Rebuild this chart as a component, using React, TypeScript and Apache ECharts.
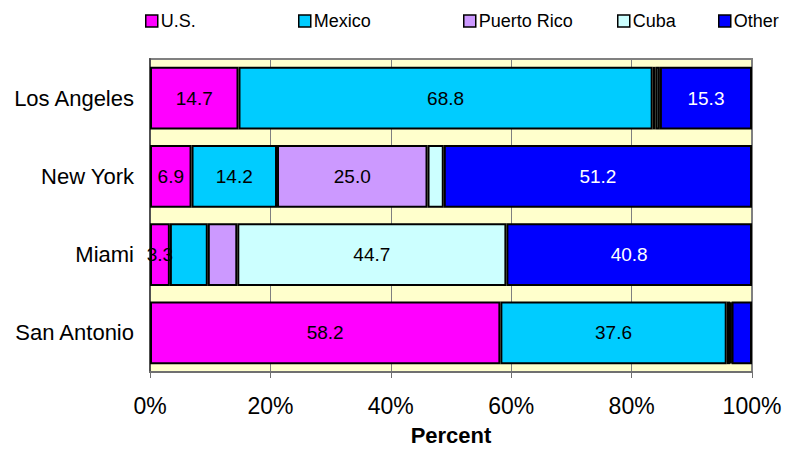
import React, { useEffect, useRef } from "react";
import * as echarts from "echarts";

// Origin shares by city (percent of each city's total)
const cities = ["Los Angeles", "New York", "Miami", "San Antonio"];
const seriesNames = ["U.S.", "Mexico", "Puerto Rico", "Cuba", "Other"];
const usValues = [14.7, 6.9, 3.3, 58.2];
const mexicoValues = [68.8, 14.2, 6.3, 37.6];
const puertoRicoValues = [0.5, 25.0, 4.9, 0.6];
const cubaValues = [0.7, 2.7, 44.7, 0.2];
const otherValues = [15.3, 51.2, 40.8, 3.4];
// Which segments carry a value label
const usLabeled = [true, true, true, true];
const mexicoLabeled = [true, true, false, true];
const puertoRicoLabeled = [false, true, false, false];
const cubaLabeled = [false, false, true, false];
const otherLabeled = [true, true, true, false];
const xTicks = [0, 20, 40, 60, 80, 100];

const colors = ["#FF00FF", "#00CCFF", "#CC99FF", "#CCFFFF", "#0000FF"];
const labelColors = ["#000", "#000", "#000", "#000", "#fff"];
const FONT = '"Liberation Sans", Arial, sans-serif';

export default function App() {
  const ref = useRef<HTMLDivElement>(null);

  useEffect(() => {
    if (!ref.current) return;
    const chart = echarts.init(ref.current, undefined, { renderer: "svg" });
    const values = [usValues, mexicoValues, puertoRicoValues, cubaValues, otherValues];
    const labeled = [usLabeled, mexicoLabeled, puertoRicoLabeled, cubaLabeled, otherLabeled];
    const legendLefts = [145, 298, 463, 617, 718];

    const series = seriesNames.map((name, si) => ({
      name,
      type: "bar",
      stack: "total",
      barCategoryGap: "20%",
      itemStyle: { color: colors[si], borderColor: "#000", borderWidth: 2 },
      label: {
        show: false,
        position: "inside",
        color: labelColors[si],
        fontSize: 19,
        fontFamily: FONT,
        formatter: (p: any) => Number(p.value).toFixed(1),
      },
      data: values[si].map((v, ci) => ({
        value: v,
        label: { show: labeled[si][ci] },
      })),
    }));

    chart.setOption({
      animation: false,
      backgroundColor: "#fff",
      textStyle: { fontFamily: FONT },
      legend: seriesNames.map((name, i) => ({
        data: [name],
        left: legendLefts[i],
        top: 12,
        padding: 0,
        icon: "rect",
        itemWidth: 12,
        itemHeight: 12,
        itemGap: 4,
        itemStyle: { borderColor: "#000", borderWidth: 1.5 },
        textStyle: { fontSize: 18, color: "#000", fontFamily: FONT, padding: [0, 0, 0, -2] },
        selectedMode: false,
      })),
      grid: {
        left: 150,
        right: 34,
        top: 59,
        bottom: 75,
        show: true,
        backgroundColor: "#FFFFCC",
        borderColor: "#808080",
        borderWidth: 2,
      },
      xAxis: {
        type: "value",
        min: xTicks[0],
        max: xTicks[xTicks.length - 1],
        interval: 20,
        name: "Percent",
        nameLocation: "middle",
        nameGap: 52,
        nameTextStyle: { fontSize: 22, fontWeight: "bold", color: "#000", fontFamily: FONT },
        axisLine: { show: true, lineStyle: { color: "#707070", width: 2 } },
        axisTick: { show: true, length: 6, lineStyle: { color: "#707070", width: 1 } },
        axisLabel: {
          fontSize: 23,
          color: "#000",
          margin: 22,
          fontFamily: FONT,
          formatter: (v: number) => `${v}%`,
        },
        splitLine: { show: true, lineStyle: { color: "#808080", width: 1 } },
      },
      yAxis: {
        type: "category",
        data: cities,
        inverse: true,
        axisLine: { show: true, lineStyle: { color: "#505050", width: 2 } },
        axisTick: { show: false },
        axisLabel: { fontSize: 22, color: "#000", margin: 16, fontFamily: FONT },
      },
      series,
    });

    return () => chart.dispose();
  }, []);

  return <div ref={ref} style={{ width: 786, height: 451, position: "absolute", left: 0, top: 0 }} />;
}
